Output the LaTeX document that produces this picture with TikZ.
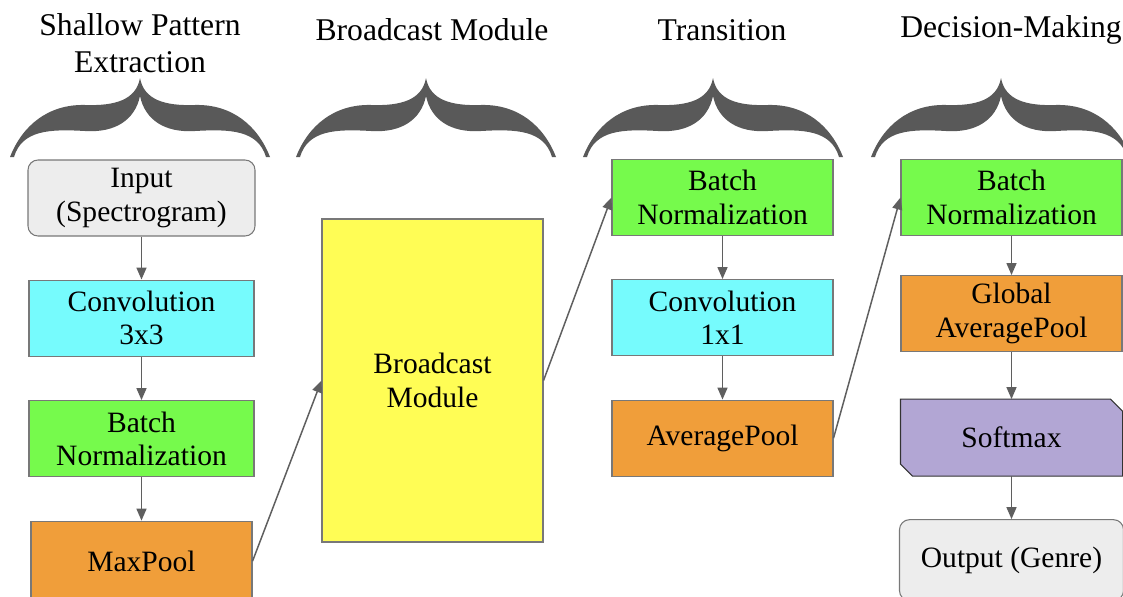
\documentclass[tikz,border=0pt]{standalone}
\usepackage{fontspec}
\setmainfont{Liberation Serif}
\usetikzlibrary{arrows.meta, positioning, calc, backgrounds}
\definecolor{iogray}{RGB}{237,237,237}
\definecolor{convcyan}{RGB}{118,251,253}
\definecolor{normgreen}{RGB}{118,250,76}
\definecolor{poolorange}{RGB}{240,158,58}
\definecolor{bcyellow}{RGB}{255,253,85}
\definecolor{smpurple}{RGB}{178,166,212}
\definecolor{boxline}{RGB}{120,120,120}
\definecolor{arrowgray}{RGB}{95,95,95}
\definecolor{bracegray}{RGB}{89,89,89}
\tikzset{
  block/.style={
    rectangle, draw=boxline, line width=0.6pt, minimum width=44.2mm, minimum height=15.2mm,
    align=center, inner sep=2pt, font=\fontsize{16.8}{19}\selectfont
  },
  io/.style={block, fill=iogray, rounded corners=2mm},
  conv/.style={block, fill=convcyan},
  norm/.style={block, fill=normgreen},
  pool/.style={block, fill=poolorange},
  bcast/.style={block, fill=bcyellow, minimum height=64.6mm},
  smax/.style={block, draw=none},
  stage/.style={font=\fontsize{18}{21}\selectfont, align=center, inner sep=0pt},
  edge/.style={-{Triangle[length=2.4mm, width=2mm]}, draw=arrowgray, line width=0.85pt},
  headbrace/.pic={
    \fill[bracegray, x=0.2mm, y=-0.2mm]
      (-130,79) .. controls (-118,48) and (-92,26) .. (-55,27)
      .. controls (-25,28) and (-4,22) .. (0,0)
      .. controls (4,22) and (25,28) .. (55,27)
      .. controls (92,26) and (118,48) .. (130,79)
      -- (126,79) .. controls (118,52) and (90,51) .. (55,53)
      .. controls (25,55) and (5,42) .. (0,18)
      .. controls (-5,42) and (-25,55) .. (-55,53)
      .. controls (-90,51) and (-118,52) .. (-126,79) -- cycle;
  }
}

\begin{document}
\begin{tikzpicture}
    \useasboundingbox (0,0) rectangle (22.46,-11.92);

    % stage headings
    \node[stage] (t1) at (2.8,-0.86) {Shallow Pattern\\Extraction};
    \node[stage] (t2) at (8.64,-0.6) {Broadcast Module};
    \node[stage] (t3) at (14.44,-0.6) {Transition};
    \node[stage, anchor=west] (t4) at (18.0,-0.6) {Decision-Making};

    \pic at (2.8,-1.56) {headbrace};
    \pic at (8.52,-1.56) {headbrace};
    \pic at (14.26,-1.56) {headbrace};
    \pic at (20.02,-1.56) {headbrace};

    % shallow pattern extraction
    \node[io, minimum width=45.4mm] (in) at (2.83,-3.96) {Input\\(Spectrogram)};
    \node[conv, minimum width=45mm, below=8.6mm of in] (c1) {Convolution\\3x3};
    \node[norm, minimum width=45mm, below=8.7mm of c1] (n1) {Batch\\Normalization};
    \node[pool, minimum height=16mm, below=8.7mm of n1] (mp) {MaxPool};

    % broadcast module
    \node[bcast] (bm) at (8.65,-7.61) {Broadcast\\Module};

    % transition
    \node[norm] (n2) at (14.45,-3.95) {Batch\\Normalization};
    \node[conv, below=8.6mm of n2] (c2) {Convolution\\1x1};
    \node[pool, below=8.7mm of c2] (ap) {AveragePool};

    % decision making
    \node[norm] (n3) at (20.23,-3.95) {Batch\\Normalization};
    \node[pool, below=7.8mm of n3] (gp) {Global\\AveragePool};
    \node[smax, below=9.4mm of gp] (sm) {Softmax};
    \node[io, minimum width=44.8mm, minimum height=16.2mm, below=8.6mm of sm] (out) {Output (Genre)};

    \begin{scope}[on background layer]
      \filldraw[fill=smpurple, draw=black!80, line width=0.6pt]
        (sm.north west) -- ([xshift=-2.4mm]sm.north east) -- ([yshift=-2.4mm]sm.north east)
        -- (sm.south east) -- ([xshift=2.4mm]sm.south west) -- ([yshift=2.4mm]sm.south west) -- cycle;
    \end{scope}

    \draw[edge] (in) -- (c1);
    \draw[edge] (c1) -- (n1);
    \draw[edge] (n1) -- (mp);
    \draw[edge] (mp.east) -- (bm.west);
    \draw[edge] (bm.east) -- (n2.west);
    \draw[edge] (n2) -- (c2);
    \draw[edge] (c2) -- (ap);
    \draw[edge] (ap.east) -- (n3.west);
    \draw[edge] (n3) -- (gp);
    \draw[edge] (gp) -- (sm);
    \draw[edge] (sm) -- (out);
\end{tikzpicture}
\end{document}
